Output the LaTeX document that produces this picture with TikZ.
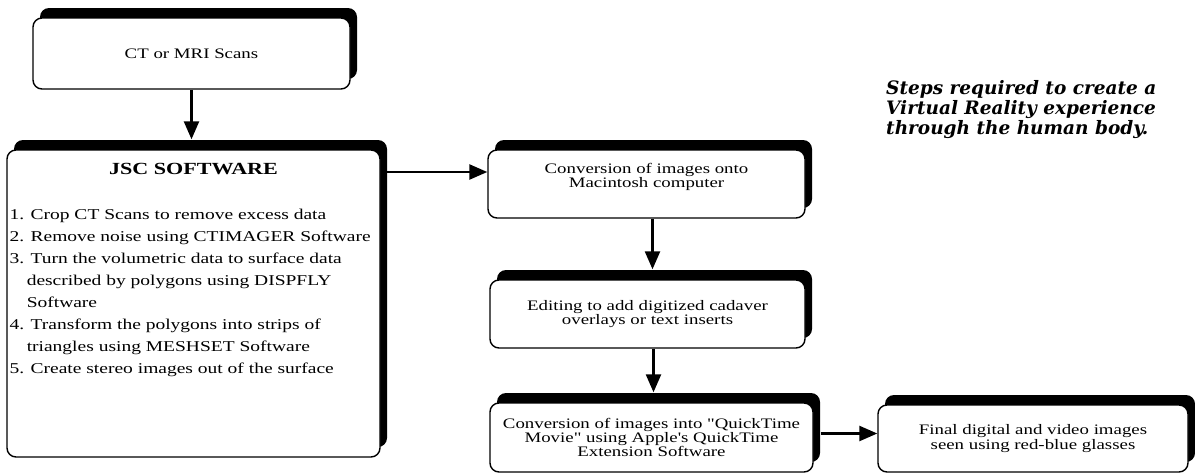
\documentclass[tikz,border=0pt]{standalone}
\usepackage{fontspec}
\setmainfont{Liberation Serif}
\newfontfamily\widefont[FakeStretch=1.3]{Liberation Serif}
\newfontfamily\titlefont{DejaVu Serif}
\usetikzlibrary{positioning,arrows.meta,shadows}

\tikzset{
  box/.style={draw, line width=1.4pt, rounded corners=9pt, fill=white, inner sep=0pt,
    align=center, font=\widefont\fontsize{14.5}{13}\selectfont,
    general shadow={fill=black, shadow xshift=7pt, shadow yshift=10pt}},
  flow/.style={line width=2.4pt, -{Triangle[width=15pt,length=18pt]}},
  list text/.style={inner sep=0pt, align=left, font=\widefont\fontsize{15}{22}\selectfont},
}

\begin{document}
\begin{tikzpicture}[x=1pt,y=-1pt]
  \useasboundingbox (0,0) rectangle (1195,474);

  % Scans und JSC Software
  \node[box, minimum width=317pt, minimum height=71pt] (scan) at (191.5,53.5) {CT or MRI Scans};
  \node[box, minimum width=373pt, minimum height=307pt] (jsc) at (193.5,303.5) {};
  \node[below=14pt of jsc.north, inner sep=0pt, font=\widefont\bfseries\fontsize{17}{20}\selectfont] (jsctitle) {JSC SOFTWARE};
  \node[list text, anchor=north west] (jsclist) at ([xshift=3pt,yshift=-60pt]jsc.north west) {%
    1. Crop CT Scans to remove excess data\\
    2. Remove noise using CTIMAGER Software\\
    3. Turn the volumetric data to surface data\\
    \hspace*{1.15em}described by polygons using DISPFLY\\
    \hspace*{1.15em}Software\\
    4. Transform the polygons into strips of\\
    \hspace*{1.15em}triangles using MESHSET Software\\
    5. Create stereo images out of the surface};

  % rechte Spalte
  \node[box, minimum width=317pt, minimum height=68pt] (mac) at (646.5,184) {Conversion of images onto\\ Macintosh computer\\[4pt]};
  \node[box, minimum width=315pt, minimum height=68pt] (edit) at (647.5,314) {Editing to add digitized cadaver\\ overlays or text inserts};
  \node[box, minimum width=323pt, minimum height=69pt] (qt) at (651.5,437.5) {Conversion of images into "QuickTime\\ Movie" using Apple's QuickTime\\ Extension Software};
  \node[box, minimum width=310pt, minimum height=67pt] (final) at (1033,438.5) {Final digital and video images\\ seen using red-blue glasses};

  % Titel
  \node[anchor=north west, inner sep=0pt, align=left, font=\titlefont\bfseries\itshape\fontsize{18.5}{20}\selectfont] (title) at (886,80) {Steps required to create a\\ Virtual Reality experience\\ through the human body.};

  % Pfeile
  \coordinate (jscout) at (387,172);
  \draw[flow] (scan.south) -- ([yshift=10pt]scan.south |- jsc.north);
  \draw[flow] (jscout) -- (jscout -| mac.west);
  \draw[flow] ([xshift=6pt]mac.south) -- ([xshift=6pt,yshift=10pt]mac.south |- edit.north);
  \draw[flow] ([xshift=6pt]edit.south) -- ([xshift=6pt,yshift=10pt]edit.south |- qt.north);
  \draw[flow] ([xshift=7pt,yshift=4pt]qt.east) -- ([yshift=4pt]qt.east -| final.west);
\end{tikzpicture}
\end{document}
